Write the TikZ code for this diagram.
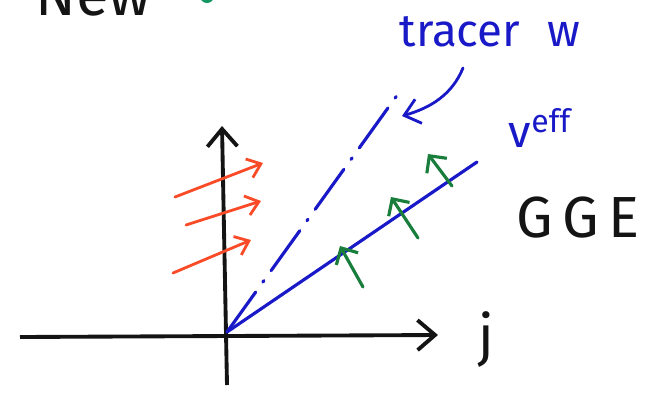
\documentclass[tikz,border=0pt]{standalone}
\usepackage{fontspec}
\setmainfont{Fira Sans}
\usepackage{tikz}
\usetikzlibrary{arrows.meta, positioning, calc}

\definecolor{penblue}{RGB}{25,25,200}
\definecolor{penred}{RGB}{250,75,40}
\definecolor{pengreen}{RGB}{25,125,60}
\definecolor{penblack}{RGB}{20,20,20}

\begin{document}
\begin{tikzpicture}[x=0.02cm, y=-0.02cm,
        axis/.style={line width=2.2pt, penblack, -{Straight Barb[length=3.5mm, width=6mm, line width=2.2pt]}},
        ray/.style={line width=1.8pt, penblue, line cap=round},
        flow/.style={line width=1.6pt, penred, line cap=round, -{Straight Barb[length=2.5mm, width=4mm, line width=1.6pt]}},
        kick/.style={line width=1.8pt, pengreen, line cap=round, -{Straight Barb[length=2.5mm, width=5mm, line width=1.8pt]}},
        label/.style={inner sep=0pt, font=\fontsize{26}{30}\selectfont}
    ]
        \useasboundingbox (0,0) rectangle (660,397);
        \clip (0,0) rectangle (660,397);

        % Title (cut off at the top)
        \node[label, penblack, font=\fontsize{34}{38}\selectfont, anchor=base west] (title) at (35,15) {New};
        \fill[pengreen!80!cyan] (207,-4) circle (7);

        % Axes
        \coordinate (o) at (227,332);
        \coordinate (xl) at (20,337);
        \coordinate (xr) at (438,335);
        \coordinate (yb) at (227,385);
        \coordinate (yt) at (222,126);
        \draw[axis] (xl) -- (xr);
        \draw[axis] (yb) -- (yt);
        \node[label, penblack, font=\fontsize{32}{36}\selectfont] (j) at (486,340) {j};

        % Light cone and tracer
        \coordinate (veffend) at (477,162);
        \coordinate (tracerend) at (398,94);
        \draw[ray] (o) -- (veffend);
        \draw[ray, dash pattern=on 28pt off 7pt on 1pt off 7pt] (o) -- (tracerend);

        \node[label, penblue] (tracer) at (490,32) {tracer\hspace{0.6em}w};
        \node[label, penblue] (veff) at (540,128) {v$^{\mathrm{eff}}$};
        \coordinate (bendstart) at (463,68);
        \coordinate (bendend) at (402,116);
        \draw[line width=1.6pt, penblue, line cap=round, -{Straight Barb[length=3mm, width=5mm, line width=1.6pt]}]
            (bendstart) .. controls (452,95) and (430,108) .. (bendend);

        \node[label, penblack, font=\fontsize{33}{38}\selectfont] (gge) at (578,218) {G\,G\,E};

        % Incoming red arrows
        \coordinate (r1a) at (175,197); \coordinate (r1b) at (263,163);
        \coordinate (r2a) at (186,225); \coordinate (r2b) at (261,201);
        \coordinate (r3a) at (173,273); \coordinate (r3b) at (251,240);
        \draw[flow] (r1a) -- (r1b);
        \draw[flow] (r2a) -- (r2b);
        \draw[flow] (r3a) -- (r3b);

        % Green kicks along veff
        \coordinate (g1a) at (363,287); \coordinate (g1b) at (340,246);
        \coordinate (g2a) at (418,238); \coordinate (g2b) at (391,197);
        \coordinate (g3a) at (452,186); \coordinate (g3b) at (428,154);
        \draw[kick] (g1a) -- (g1b);
        \draw[kick] (g2a) -- (g2b);
        \draw[kick] (g3a) -- (g3b);

    \end{tikzpicture}
\end{document}
